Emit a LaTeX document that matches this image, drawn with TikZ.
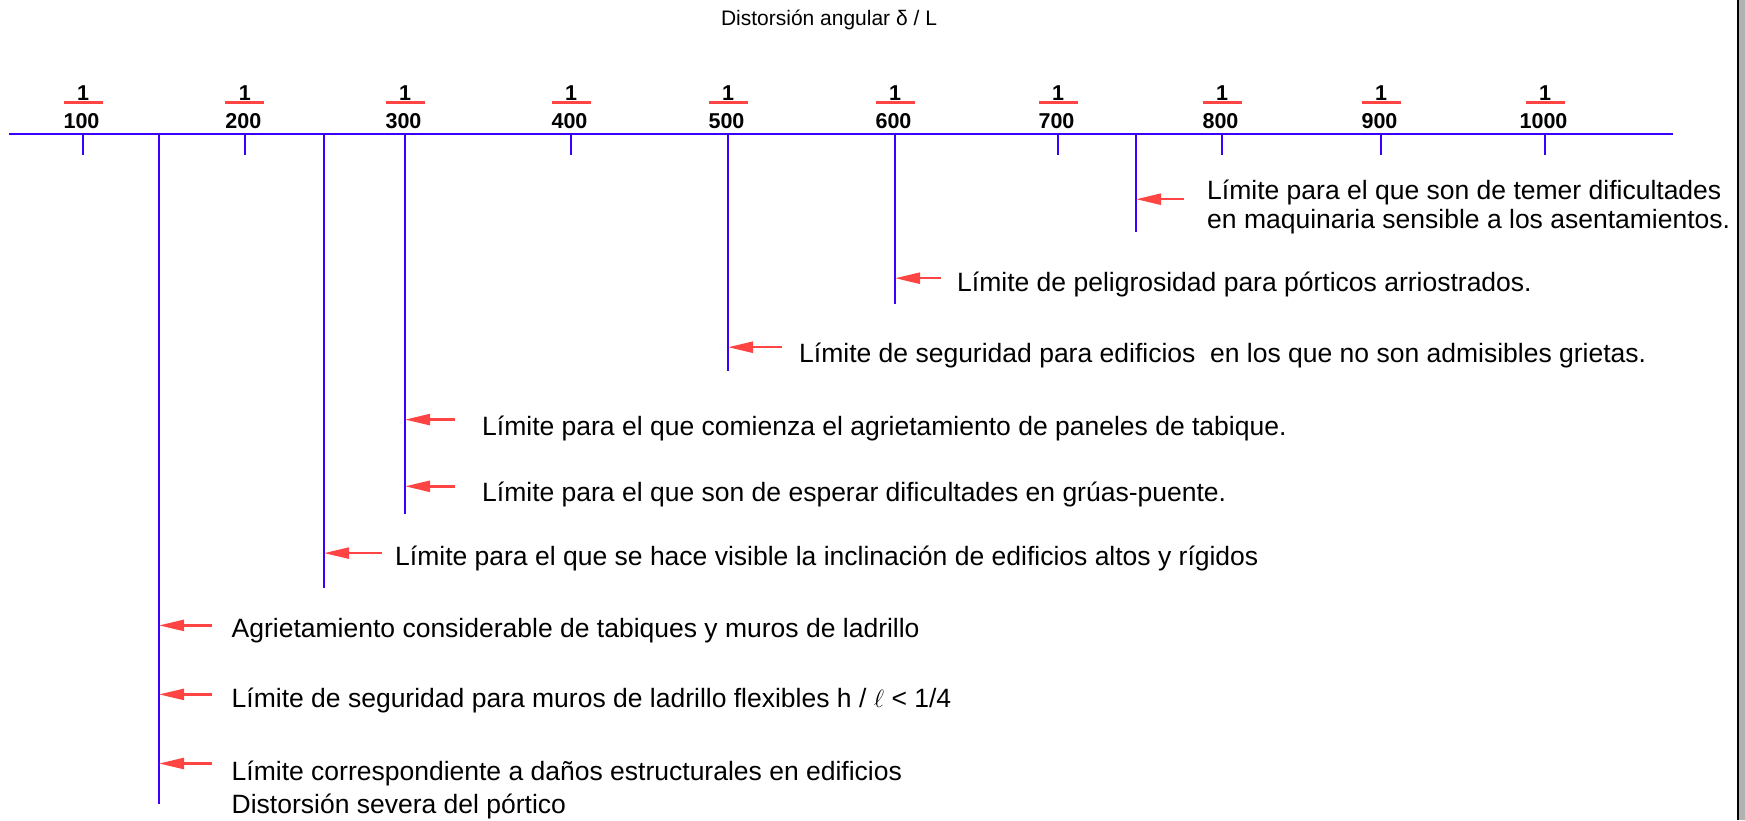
\documentclass[tikz,border=0pt]{standalone}
\usepackage{fontspec}
\setmainfont{Liberation Sans}
\usetikzlibrary{arrows.meta}
\definecolor{axisblue}{RGB}{60,0,255}
\definecolor{arrowred}{RGB}{255,68,68}
\tikzset{
  axisline/.style={draw=axisblue, line width=2.6pt},
  tickline/.style={draw=axisblue, line width=2pt},
  limline/.style={draw=axisblue, line width=2pt},
  redarrow/.style={draw=arrowred, line width=2.4pt, -{Triangle[length=25pt,width=11pt]}},
  fracbar/.style={draw=arrowred, line width=2.6pt},
  numtxt/.style={font=\fontsize{21.5}{23}\selectfont\bfseries, inner sep=0pt},
  labtxt/.style={font=\fontsize{26.5}{28.5}\selectfont, inner sep=0pt, anchor=west, align=left},
  titletxt/.style={font=\fontsize{21}{24}\selectfont, inner sep=0pt}
}
\begin{document}
\begin{tikzpicture}[x=1pt,y=-1pt]
\useasboundingbox (0,0) rectangle (1745,820);
% right edge frame
\fill[gray!60] (1738,0) rectangle (1745,820);
\draw[black, line width=2pt] (1738,0) -- (1738,820);
% title
\node[titletxt] (title) at (829,20) {Distorsión angular δ / L};
% axis
\coordinate (axL) at (9,134);
\coordinate (axR) at (1673,134);
\draw[axisline] (axL) -- (axR);
% ticks with labels
\foreach \n/\x in {100/83,200/244.8,300/405,400/571,500/728,600/895,700/1058,800/1222,900/1381,1000/1545}{
  \coordinate (t\n) at (\x,134);
  \coordinate (t\n b) at (\x,155);
  \draw[tickline] (t\n) -- (t\n b);
  \coordinate (bl\n) at (\x-19.5,102.6);
  \coordinate (br\n) at (\x+19.5,102.6);
  \draw[fracbar] (bl\n) -- (br\n);
  \node[numtxt, anchor=base] (one\n) at (\x,100.5) {1};
  \node[numtxt, anchor=base] (den\n) at (\x-1.5,128.3) {\n};
}
% long limit lines
\foreach \name/\x/\yb in {v150/159/803.5, v250/324/587.6, v300/405/514, v500/728/370.6, v600/895/303.8, v750/1136/231.5}{
  \coordinate (\name) at (\x,134);
  \coordinate (\name b) at (\x,\yb);
  \draw[limline] (\name) -- (\name b);
}
% arrows and texts
\coordinate (a1s) at (1184,199.2); \coordinate (a1e) at (1136,199.2);
\draw[redarrow] (a1s) -- (a1e);
\node[labtxt] (l1) at (1207,207) {Límite para el que son de temer dificultades\\en maquinaria sensible a los asentamientos.};

\coordinate (a2s) at (941,278.2); \coordinate (a2e) at (895,278.2);
\draw[redarrow] (a2s) -- (a2e);
\node[labtxt] (l2) at (957,284.5) {Límite de peligrosidad para pórticos arriostrados.};

\coordinate (a3s) at (782,347.2); \coordinate (a3e) at (728,347.2);
\draw[redarrow] (a3s) -- (a3e);
\node[labtxt] (l3) at (799,355) {Límite de seguridad para edificios \ en los que no son admisibles grietas.};

\coordinate (a4s) at (455,419.6); \coordinate (a4e) at (405,419.6);
\draw[redarrow] (a4s) -- (a4e);
\node[labtxt] (l4) at (482,428.4) {Límite para el que comienza el agrietamiento de paneles de tabique.};

\coordinate (a5s) at (455,486.3); \coordinate (a5e) at (405,486.3);
\draw[redarrow] (a5s) -- (a5e);
\node[labtxt] (l5) at (482,494) {Límite para el que son de esperar dificultades en grúas-puente.};

\coordinate (a6s) at (382,553.1); \coordinate (a6e) at (324,553.1);
\draw[redarrow] (a6s) -- (a6e);
\node[labtxt] (l6) at (395,558.6) {Límite para el que se hace visible la inclinación de edificios altos y rígidos};

\coordinate (a7s) at (211.5,625.4); \coordinate (a7e) at (159,625.4);
\draw[redarrow] (a7s) -- (a7e);
\node[labtxt] (l7) at (231.5,631) {Agrietamiento considerable de tabiques y muros de ladrillo};

\coordinate (a8s) at (211.5,694.4); \coordinate (a8e) at (159,694.4);
\draw[redarrow] (a8s) -- (a8e);
\node[labtxt] (l8) at (231.5,700) {Límite de seguridad para muros de ladrillo flexibles h / $\ell$ < 1/4};

\coordinate (a9s) at (211.5,763.5); \coordinate (a9e) at (159,763.5);
\draw[redarrow] (a9s) -- (a9e);
\node[labtxt] (l9) at (231.5,790) {Límite correspondiente a daños estructurales en edificios\\[4pt]Distorsión severa del pórtico};
\end{tikzpicture}
\end{document}
